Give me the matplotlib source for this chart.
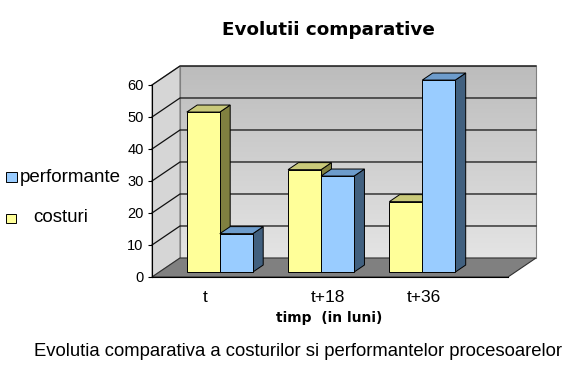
import matplotlib.pyplot as plt
import numpy as np
from matplotlib.patches import Polygon, Rectangle

plt.rcParams['font.family'] = ['Liberation Sans', 'DejaVu Sans']

# data
categories = ['t', 't+18', 't+36']
costuri = [50, 32, 22]
performante = [12, 30, 60]
yticks = [0, 10, 20, 30, 40, 50, 60]

# 3D look (depth offsets in data units)
XMIN, XMAX = -0.598, 2.918
YMAX = 60
DX, DY = 0.2765, 5.94
D0, D1 = 0.26, 0.63    # bar depth start / end (fraction of depth)
W = 0.326

yellow = ('#ffff99', '#c9c97a', '#808040')
blue = ('#99ccff', '#6d9ccc', '#41607f')

fig = plt.figure(figsize=(5.88, 3.73), dpi=100)
ax = fig.add_axes([152/588, (373-277)/373, (508-152)/588, 192/373])

# side wall
side = Polygon([(XMIN, 0), (XMIN+DX, DY), (XMIN+DX, YMAX+DY), (XMIN, YMAX)],
               closed=True, fc='#d6d6d6', ec='#808080', lw=0.8, zorder=0, clip_on=False)
ax.add_patch(side)

# back wall with gradient
grad = np.linspace(0, 1, 256).reshape(-1, 1)
im = ax.imshow(grad, extent=[XMIN+DX, XMAX+DX, DY, YMAX+DY], origin='lower',
               cmap=plt.matplotlib.colors.LinearSegmentedColormap.from_list('w', ['#e4e4e4', '#bcbcbc']),
               aspect='auto', zorder=0)
im.set_clip_on(False)
ax.add_patch(Rectangle((XMIN+DX, DY), XMAX-XMIN, YMAX, fill=False, ec='#808080', lw=0.8,
                       zorder=0.5, clip_on=False))

# gridlines
for v in yticks[1:]:
    ax.plot([XMIN, XMIN+DX, XMAX+DX], [v, v+DY, v+DY], color='#101010', lw=0.9,
            zorder=1, clip_on=False)

# floor
floor = Polygon([(XMIN, 0), (XMAX, 0), (XMAX+DX, DY), (XMIN+DX, DY)],
                closed=True, fc='#808080', ec='#303030', lw=0.8, zorder=1.5, clip_on=False)
ax.add_patch(floor)

# bars
x = np.arange(len(categories))
z = 3
for i in range(len(categories)):
    for off, vals, cols in [(-W/2, costuri, yellow), (W/2, performante, blue)]:
        v = vals[i]
        x0 = x[i] + off - W/2 + D0*DX
        x1 = x0 + W
        b0 = D0*DY
        ddx, ddy = (D1-D0)*DX, (D1-D0)*DY
        ax.add_patch(Polygon([(x1, b0), (x1+ddx, b0+ddy), (x1+ddx, b0+v+ddy), (x1, b0+v)],
                             fc=cols[2], ec='black', lw=0.7, zorder=z, clip_on=False))
        ax.add_patch(Polygon([(x0, b0+v), (x1, b0+v), (x1+ddx, b0+v+ddy), (x0+ddx, b0+v+ddy)],
                             fc=cols[1], ec='black', lw=0.7, zorder=z, clip_on=False))
        ax.bar(x0 + W/2, v, W, bottom=b0, color=cols[0], edgecolor='black', lw=0.7,
               zorder=z+0.1, clip_on=False)
        z += 1

ax.set_xlim(XMIN, XMAX)
ax.set_ylim(0, YMAX)
for s in ['top', 'right']:
    ax.spines[s].set_visible(False)
ax.spines['left'].set_zorder(10)
ax.spines['bottom'].set_zorder(10)
ax.set_yticks(yticks)
ax.tick_params(axis='y', length=3, pad=3, labelsize=10.5)
# Excel places the category labels a bit unevenly
ax.set_xticks(x + D0*DX + np.array([-0.15, 0.07, 0.02]))
ax.set_xticklabels(categories)
ax.tick_params(axis='x', length=0, pad=9, labelsize=12.5)
ax.set_facecolor('none')

# legend
fig.patches.append(Rectangle((6/588, 1-182/373), 11/588, 10/373, transform=fig.transFigure,
                             fc=blue[0], ec='black', lw=0.7))
fig.text(20/588, 1-177/373, 'performante', fontsize=13.5, va='center', ha='left')
fig.patches.append(Rectangle((6/588, 1-223/373), 10/588, 9/373, transform=fig.transFigure,
                             fc=yellow[0], ec='black', lw=0.7))
fig.text(33/588, 1-218/373, 'costuri', fontsize=13.5, va='center', ha='left')

fig.text(328/588, 1-30/373, 'Evolutii comparative', fontsize=13.2, fontweight='bold',
         ha='center', va='center', family='DejaVu Sans')
fig.text(329/588, 1-318/373, 'timp  (in luni)', fontsize=10, fontweight='bold',
         ha='center', va='center', family='DejaVu Sans')
fig.text(298/588, 1-352/373, 'Evolutia comparativa a costurilor si performantelor procesoarelor',
         fontsize=13.3, ha='center', va='center')

fig.savefig('out.png', dpi=100)
